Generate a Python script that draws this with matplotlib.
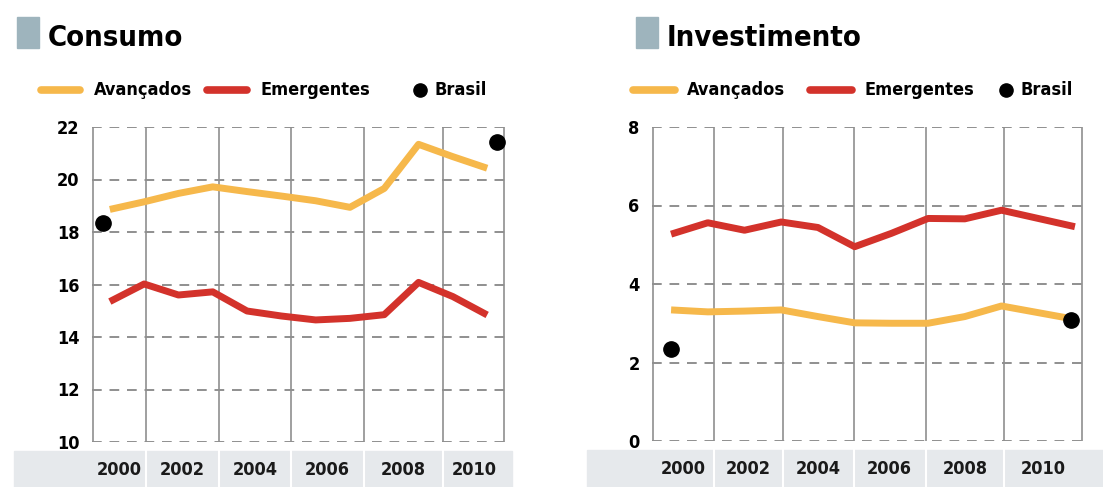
import matplotlib
matplotlib.use("Agg")
import matplotlib.pyplot as plt
from matplotlib.lines import Line2D
from matplotlib.patches import Rectangle
import matplotlib.transforms as mtransforms

# data
years = list(range(2000, 2012))

consumo_avancados = [18.86, 19.15, 19.47, 19.72, 19.54, 19.37, 19.19, 18.94, 19.66, 21.34, 20.87, 20.43]
consumo_emergentes = [15.35, 16.02, 15.60, 15.72, 14.99, 14.80, 14.65, 14.71, 14.85, 16.08, 15.54, 14.84]
consumo_brasil_x = [1999.8, 2011.3]
consumo_brasil = [18.33, 21.44]

invest_avancados = [3.34, 3.29, 3.31, 3.34, 3.17, 3.01, 3.00, 3.00, 3.17, 3.44, 3.27, 3.10]
invest_emergentes = [5.27, 5.56, 5.37, 5.58, 5.44, 4.95, 5.29, 5.67, 5.66, 5.88, 5.67, 5.46]
invest_brasil_x = [2000.0, 2010.9]
invest_brasil = [2.34, 3.08]

year_labels = ["2000", "2002", "2004", "2006", "2008", "2010"]

AMARELO = "#f6b84b"
VERMELHO = "#d3322b"
GRADE = "#8f8f8f"
FAIXA = "#e6e9ec"
QUADRADO = "#9eb4bd"

W, H = 1103, 487
plt.rcParams["font.family"] = ["DejaVu Sans"]
plt.rcParams["font.stretch"] = "condensed"

fig = plt.figure(figsize=(W / 100, H / 100), dpi=100)
fig.patch.set_facecolor("white")


def fx(px):
    return px / W


def fy(py):
    return 1 - py / H


def painel(rect, titulo, title_x, sq_x, leg, av, em, br_x, br, ylim, yticks,
           xlim, vlines, band_ext):
    ax = fig.add_axes(rect)
    ax.set_xlim(*xlim)
    ax.set_ylim(*ylim)
    for s in ax.spines.values():
        s.set_visible(False)
    ax.set_xticks([])
    ax.set_yticks(yticks)
    ax.set_yticklabels([str(t) for t in yticks], fontsize=13, fontweight="bold",
                       fontstretch="condensed")
    ax.tick_params(axis="y", length=0, pad=9)

    # grid
    for t in yticks:
        ax.axhline(t, color=GRADE, lw=1.4, ls=(0, (5, 4)), zorder=1)
    for v in [xlim[0] + 0.02] + vlines + [xlim[1] - 0.02]:
        ax.axvline(v, color=GRADE, lw=1.2, zorder=1)

    ax.plot(years, av, color=AMARELO, lw=5, solid_capstyle="butt", zorder=3)
    ax.plot(years, em, color=VERMELHO, lw=5, solid_capstyle="butt", zorder=3)
    ax.plot(br_x, br, "o", color="black", ms=11, zorder=4, clip_on=False)

    # year band
    tr = mtransforms.blended_transform_factory(ax.transData, ax.transAxes)
    ax.add_patch(Rectangle((band_ext[0], -0.145), band_ext[1] - band_ext[0], 0.115,
                           transform=ax.transAxes, color=FAIXA, clip_on=False, zorder=0))
    for v in vlines:
        ax.add_line(Line2D([v, v], [-0.145, -0.03], transform=tr, color="white",
                           lw=1.5, clip_on=False, zorder=0.5))
    edges = [xlim[0]] + vlines + [xlim[1]]
    for i, lab in enumerate(year_labels):
        cx = (edges[i] + edges[i + 1]) / 2
        ax.text(cx, -0.089, lab, transform=tr, ha="center", va="center",
                fontsize=13, fontweight="bold", color="#1a1a1a")

    # title
    fig.patches.append(Rectangle((fx(sq_x), fy(48)), fx(22), 31 / H,
                                 transform=fig.transFigure, color=QUADRADO))
    fig.text(fx(title_x), fy(46), titulo, fontsize=21, fontweight="bold",
             ha="left", va="baseline", color="black")

    # legend
    ly = fy(90)
    fig.lines.append(Line2D([fx(leg[0]), fx(leg[1])], [ly, ly], color=AMARELO, lw=5.5,
                            solid_capstyle="round", transform=fig.transFigure))
    fig.text(fx(leg[2]), ly, "Avançados", fontsize=13, fontweight="bold", va="center")
    fig.lines.append(Line2D([fx(leg[3]), fx(leg[4])], [ly, ly], color=VERMELHO, lw=5.5,
                            solid_capstyle="round", transform=fig.transFigure))
    fig.text(fx(leg[5]), ly, "Emergentes", fontsize=13, fontweight="bold", va="center")
    fig.lines.append(Line2D([fx(leg[6])], [ly], marker="o", color="black", ms=9.5,
                            ls="none", transform=fig.transFigure))
    fig.text(fx(leg[7]), ly, "Brasil", fontsize=13, fontweight="bold", va="center")
    return ax


painel([fx(92), fy(442), fx(505 - 92), (442 - 127) / H], "Consumo", 48, 17,
       [41, 80, 94, 207, 247, 261, 420, 434],
       consumo_avancados, consumo_emergentes, consumo_brasil_x, consumo_brasil,
       (10, 22), [10, 12, 14, 16, 18, 20, 22], (1999.48, 2011.52),
       [2001.05, 2003.18, 2005.28, 2007.4, 2009.7], (-0.19, 1.017))

painel([fx(652), fy(441), fx(1083 - 652), (441 - 127) / H], "Investimento", 667, 636,
       [633, 675, 687, 810, 852, 864, 1006, 1020],
       invest_avancados, invest_emergentes, invest_brasil_x, invest_brasil,
       (0, 8), [0, 2, 4, 6, 8], (1999.48, 2011.22),
       [2001.16, 2003.04, 2004.97, 2006.94, 2009.07], (-0.15, 1.047))

fig.savefig("out.png", dpi=100)
